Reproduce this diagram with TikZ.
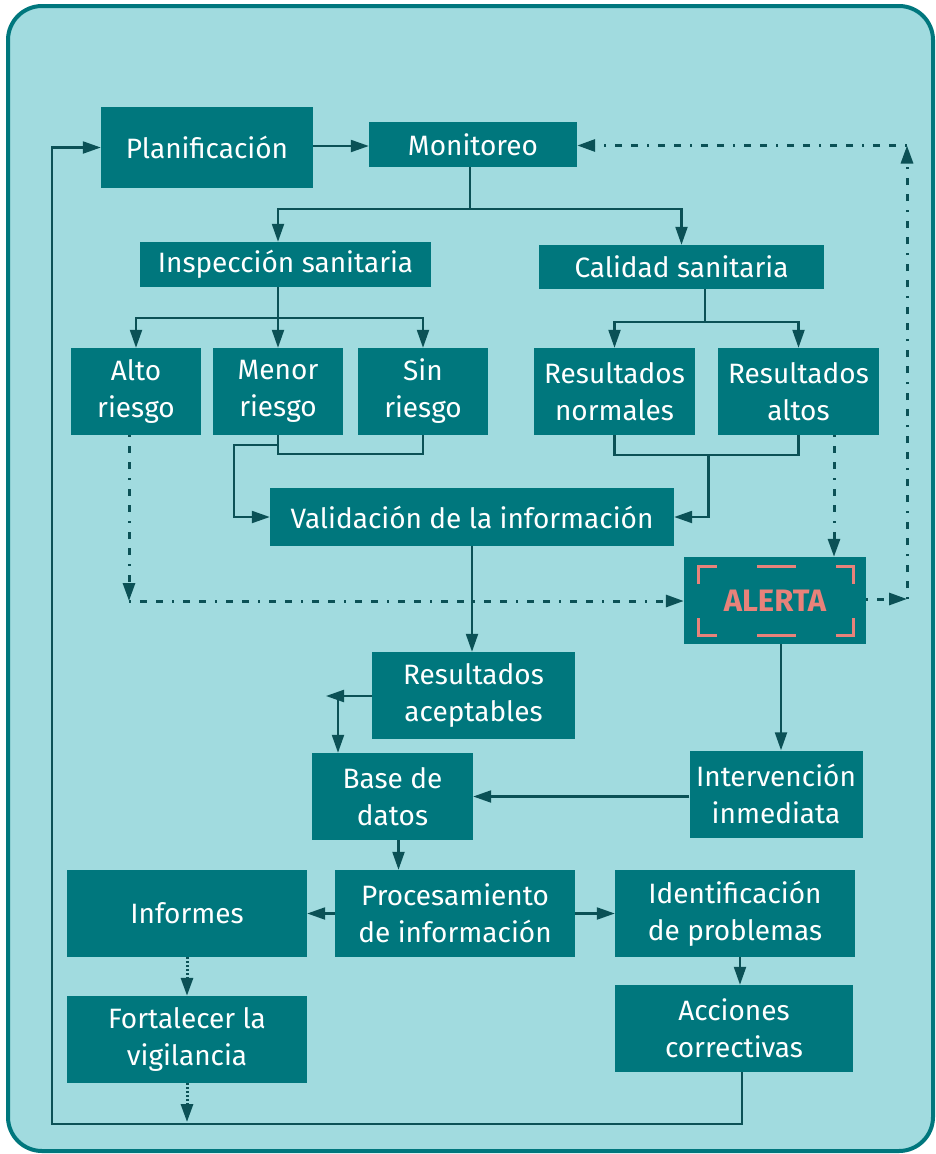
\documentclass[tikz,border=0pt]{standalone}
\usepackage{fontspec}
\setmainfont{Fira Sans}
\usetikzlibrary{arrows.meta,calc}
\definecolor{bgc}{HTML}{A1DBDF}
\definecolor{boxc}{HTML}{00777D}
\definecolor{linec}{HTML}{0B5156}
\definecolor{salmon}{HTML}{E8827A}
\begin{document}
\begin{tikzpicture}[x=1pt,y=-1pt,
  box/.style={fill=boxc, text=white, inner sep=0pt, align=center,
    font=\fontsize{28}{37}\selectfont},
  wire/.style={draw=linec, line width=2.2pt},
  conn/.style={wire, -{Triangle[length=18pt,width=12pt]}},
  ddash/.style={line width=3pt, dash pattern=on 2pt off 9pt on 7pt off 9pt on 7pt off 9pt},
  dd/.style={conn, ddash},
  dots/.style={conn, line width=3pt, dash pattern=on 2pt off 2pt},
  brk/.style={draw=salmon, line width=3pt}]
\useasboundingbox (0,0) rectangle (936,1154);
\draw[draw=boxc, line width=4pt, fill=bgc, rounded corners=34pt] (8,6) rectangle (933,1151);

% nodes
\node[box, minimum width=212pt, minimum height=81pt] (plan) at (207,147.5) {Planificación};
\node[box, minimum width=208pt, minimum height=45pt] (moni) at (473,144.5) {Monitoreo};
\node[box, minimum width=291pt, minimum height=45pt] (insp) at (285.5,264.5) {Inspección sanitaria};
\node[box, minimum width=285pt, minimum height=44pt] (cal) at (681.5,267) {Calidad sanitaria};
\node[box, minimum width=130pt, minimum height=87pt] (alto) at (136,391.5) {Alto\\riesgo};
\node[box, minimum width=130pt, minimum height=87pt] (menor) at (278,391.5) {Menor\\riesgo};
\node[box, minimum width=130pt, minimum height=87pt] (sin) at (423,391.5) {Sin\\riesgo};
\node[box, minimum width=161pt, minimum height=87pt] (rnorm) at (614.5,391.5) {Resultados\\normales};
\node[box, minimum width=161pt, minimum height=87pt] (ralt) at (798.5,391.5) {Resultados\\altos};
\node[box, minimum width=404pt, minimum height=58pt] (valid) at (472,517) {Validación de la información};
\node[box, minimum width=182pt, minimum height=87pt, text=salmon,
  font=\fontsize{31}{35}\bfseries] (alerta) at (775,600.5) {ALERTA};
\node[box, minimum width=203pt, minimum height=87pt] (racep) at (473.5,695.5) {Resultados\\aceptables};
\node[box, minimum width=161pt, minimum height=87pt] (base) at (392.5,796.5) {Base de\\datos};
\node[box, minimum width=173pt, minimum height=87pt] (interv) at (776,794) {Intervención\\inmediata};
\node[box, minimum width=240pt, minimum height=87pt] (inf) at (187,913.5) {Informes};
\node[box, minimum width=240pt, minimum height=87pt] (proc) at (455,913.5) {Procesamiento\\de información};
\node[box, minimum width=240pt, minimum height=87pt] (ident) at (735,913.5) {Identificación\\de problemas};
\node[box, minimum width=240pt, minimum height=87pt] (fort) at (187,1039.5) {Fortalecer la\\vigilancia};
\node[box, minimum width=238pt, minimum height=87pt] (acc) at (734,1028.5) {Acciones\\correctivas};

% ALERTA brackets
\draw[brk] ($(alerta.north west)+(15,27)$) -- ++(0,-17) -- ++(18,0);
\draw[brk] ($(alerta.north west)+(73,10)$) -- ++(39,0);
\draw[brk] ($(alerta.north east)+(-30,10)$) -- ++(17,0) -- ++(0,17);
\draw[brk] ($(alerta.south west)+(15,-26)$) -- ++(0,17) -- ++(18,0);
\draw[brk] ($(alerta.south west)+(73,-9)$) -- ++(39,0);
\draw[brk] ($(alerta.south east)+(-30,-9)$) -- ++(17,0) -- ++(0,-17);

% coordinates
\coordinate (cA) at (129,601);
\coordinate (cR) at (907,599);
\coordinate (cT) at (907,145.5);
\coordinate (xr) at (834,0);
\coordinate (raL) at (326,696);
\coordinate (raD) at (338,696);
\coordinate (fend) at (187,1122);
\coordinate (lp) at (52,1124);

% solid connectors
\draw[conn] (plan.east |- 0,146) -- (moni.west |- 0,146);
\draw[conn] (moni.south -| 470,0) -- ++(0,42) -| (insp.north -| menor.north);
\draw[conn] (moni.south -| 470,0) -- ++(0,42) -| (cal.north);
\draw[conn] (insp.south -| menor.south) -- ++(0,31) -| (alto.north);
\draw[conn] (insp.south -| menor.south) -- (menor.north);
\draw[conn] (insp.south -| menor.south) -- ++(0,31) -| (sin.north);
\draw[conn] ($(cal.south)+(23.5,0)$) -- ++(0,33) -| (rnorm.north);
\draw[conn] ($(cal.south)+(23.5,0)$) -- ++(0,33) -| (ralt.north);
\draw[wire] (menor.south) -- ++(0,19) -| (sin.south);
\draw[conn] ($(menor.south)+(0,10)$) -- ++(-44,0) |- (valid.west);
\draw[wire] (rnorm.south) -- ++(0,20) -| (ralt.south);
\draw[conn] ($(rnorm.south)!0.5!(ralt.south)+(2,20)$) |- (valid.east);
\draw[conn] (valid.south) -- (valid.south |- racep.north);
\draw[conn] ($(alerta.south)+(6,0)$) coordinate (as) -- (as |- interv.north);
\draw[conn] (interv.west |- base.east) -- (base.east);
\draw[conn] (racep.west |- raL) -- (raL);
\draw[conn] (raD) -- (raD |- base.north);
\draw[conn] ($(base.south)+(6,0)$) coordinate (bs) -- (bs |- proc.north);
\draw[conn] (proc.west) -- (inf.east);
\draw[conn] (proc.east) -- (proc.east -| ident.west);
\draw[conn] ($(ident.south)+(5,0)$) coordinate (is) -- (is |- acc.north);
\draw[conn] ($(acc.south)+(8,0)$) |- (lp) |- (plan.west);

% dash-dot and dotted
\draw[dd] (alto.south -| cA) -- (cA);
\draw[dd] (cA) -- (cA -| alerta.west);
\draw[dd] (ralt.south -| xr) -- (alerta.north -| xr);
\draw[dd] (alerta.east |- cR) -- (cR);
\draw[dd] (cR) -- (cT);
\draw[dd] (cT) -- (cT -| moni.east);
\draw[dots] (inf.south) -- (fort.north);
\draw[dots] (fort.south) -- (fend);
\end{tikzpicture}
\end{document}
